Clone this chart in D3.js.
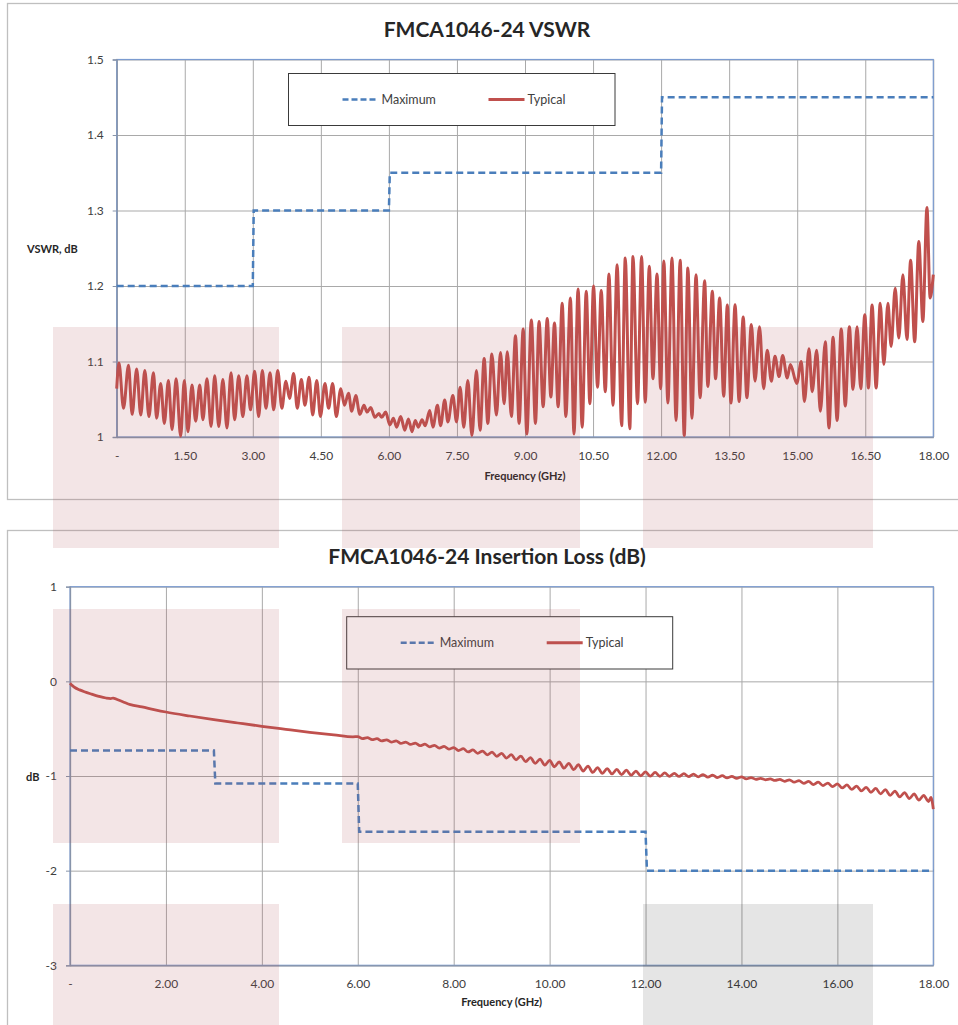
<!DOCTYPE html>
<html>
<head>
<meta charset="utf-8">
<script src="https://cdn.jsdelivr.net/npm/d3@7"></script>
<style>
  body { margin: 0; background: #fff; }
  svg { display: block; }
  text { font-family: Lato, "Open Sans", "DejaVu Sans", sans-serif; }
</style>
</head>
<body>
<svg id="page" width="958" height="1025"></svg>
<script>
// ---- data ----
const vswrFreqTicks = [0, 1.5, 3, 4.5, 6, 7.5, 9, 10.5, 12, 13.5, 15, 16.5, 18];
const vswrTicks = [1, 1.1, 1.2, 1.3, 1.4, 1.5];
const ilFreqTicks = [0, 2, 4, 6, 8, 10, 12, 14, 16, 18];
const ilTicks = [-3, -2, -1, 0, 1];

// VSWR limit (step line)
const vswrMaximum = [[0, 1.2], [3.0, 1.2], [3.02, 1.3], [6.0, 1.3], [6.02, 1.35],
  [12.0, 1.35], [12.02, 1.45], [18.0, 1.45]];

// VSWR measured, peaks and troughs of the ripple [GHz, VSWR]
const vswrTypical = [
  [0, 1.064], [0.05, 1.098], [0.15, 1.038], [0.26, 1.095], [0.34, 1.030], [0.44, 1.090],
  [0.53, 1.029], [0.62, 1.088], [0.71, 1.027], [0.81, 1.085], [0.88, 1.025], [0.97, 1.071],
  [1.05, 1.018], [1.14, 1.075], [1.22, 1.010], [1.31, 1.077], [1.41, 1.001], [1.49, 1.075],
  [1.57, 1.007], [1.66, 1.069], [1.74, 1.021], [1.83, 1.069], [1.90, 1.023], [1.99, 1.077],
  [2.08, 1.014], [2.16, 1.081], [2.25, 1.014], [2.34, 1.076], [2.43, 1.012], [2.52, 1.085],
  [2.60, 1.023], [2.69, 1.081], [2.78, 1.027], [2.87, 1.081], [2.95, 1.036], [3.04, 1.087],
  [3.13, 1.027], [3.21, 1.088], [3.29, 1.038], [3.38, 1.085], [3.46, 1.036], [3.55, 1.088],
  [3.64, 1.038], [3.73, 1.074], [3.81, 1.051], [3.90, 1.084], [3.98, 1.038], [4.07, 1.076],
  [4.15, 1.042], [4.24, 1.079], [4.32, 1.029], [4.41, 1.075], [4.49, 1.027], [4.59, 1.071],
  [4.67, 1.038], [4.76, 1.071], [4.84, 1.027], [4.94, 1.064], [5.02, 1.042], [5.11, 1.058],
  [5.18, 1.034], [5.27, 1.055], [5.36, 1.030], [5.45, 1.042], [5.52, 1.033], [5.60, 1.039],
  [5.69, 1.026], [5.78, 1.031], [5.84, 1.026], [5.93, 1.033], [6.02, 1.016], [6.10, 1.025],
  [6.17, 1.013], [6.26, 1.027], [6.35, 1.009], [6.43, 1.024], [6.51, 1.007], [6.58, 1.022],
  [6.65, 1.013], [6.73, 1.023], [6.80, 1.015], [6.90, 1.035], [6.97, 1.013], [7.07, 1.042],
  [7.14, 1.015], [7.23, 1.049], [7.30, 1.020], [7.41, 1.055], [7.49, 1.020], [7.57, 1.066],
  [7.65, 1.013], [7.74, 1.075], [7.83, 1.002], [7.93, 1.088], [8.01, 1.009], [8.10, 1.104],
  [8.18, 1.018], [8.27, 1.110], [8.37, 1.029], [8.46, 1.112], [8.54, 1.044], [8.61, 1.113],
  [8.70, 1.027], [8.79, 1.134], [8.87, 1.018], [8.96, 1.143], [9.04, 1.004], [9.14, 1.155],
  [9.23, 1.018], [9.31, 1.153], [9.40, 1.040], [9.49, 1.157], [9.57, 1.053], [9.65, 1.151],
  [9.73, 1.040], [9.82, 1.177], [9.90, 1.027], [10.00, 1.184], [10.08, 1.004], [10.17, 1.196],
  [10.26, 1.013], [10.35, 1.193], [10.43, 1.044], [10.51, 1.200], [10.60, 1.066], [10.68, 1.194],
  [10.77, 1.060], [10.85, 1.216], [10.94, 1.042], [11.03, 1.228], [11.13, 1.015], [11.21, 1.237],
  [11.31, 1.011], [11.38, 1.239], [11.48, 1.044], [11.57, 1.239], [11.65, 1.046], [11.74, 1.226],
  [11.82, 1.077], [11.91, 1.216], [11.99, 1.064], [12.06, 1.233], [12.15, 1.045], [12.24, 1.237],
  [12.33, 1.022], [12.42, 1.234], [12.51, 1.002], [12.59, 1.224], [12.68, 1.025], [12.77, 1.215],
  [12.86, 1.052], [12.96, 1.207], [13.03, 1.067], [13.13, 1.193], [13.20, 1.077], [13.29, 1.184],
  [13.38, 1.054], [13.46, 1.175], [13.54, 1.045], [13.63, 1.175], [13.72, 1.047], [13.81, 1.159],
  [13.89, 1.052], [13.99, 1.149], [14.07, 1.074], [14.17, 1.146], [14.26, 1.064], [14.34, 1.115],
  [14.43, 1.074], [14.51, 1.107], [14.60, 1.080], [14.68, 1.108], [14.78, 1.078], [14.85, 1.096],
  [14.99, 1.071], [15.09, 1.100], [15.16, 1.047], [15.26, 1.117], [15.33, 1.060], [15.43, 1.115],
  [15.51, 1.034], [15.62, 1.126], [15.70, 1.012], [15.79, 1.132], [15.88, 1.022], [15.97, 1.143],
  [16.06, 1.041], [16.15, 1.146], [16.23, 1.063], [16.32, 1.146], [16.40, 1.064], [16.49, 1.162],
  [16.57, 1.065], [16.65, 1.175], [16.74, 1.065], [16.83, 1.177], [16.91, 1.096], [17.00, 1.177],
  [17.07, 1.120], [17.16, 1.197], [17.24, 1.131], [17.33, 1.215], [17.42, 1.129], [17.50, 1.234],
  [17.59, 1.126], [17.68, 1.259], [17.77, 1.153], [17.86, 1.304], [17.93, 1.184], [18.00, 1.215]
];

// insertion loss limit (step line)
const ilMaximum = [[0, -0.73], [3.0, -0.73], [3.03, -1.08], [6.0, -1.08], [6.03, -1.59],
  [12.0, -1.59], [12.03, -2.0], [18.0, -2.0]];

// insertion loss measured [GHz, dB]
const ilTypical = [
  [0, -0.02], [0.05, -0.045], [0.1, -0.065], [0.2, -0.09], [0.3, -0.11], [0.45, -0.135],
  [0.6, -0.158], [0.75, -0.176], [0.85, -0.182], [0.9, -0.176], [0.97, -0.19], [1.1, -0.215],
  [1.26, -0.246], [1.5, -0.27], [1.75, -0.298], [2.0, -0.324], [2.5, -0.366], [3.0, -0.404],
  [3.5, -0.44], [4.0, -0.475], [4.5, -0.507], [5.0, -0.538], [5.5, -0.565], [5.9, -0.586],
  [6.0, -0.583], [6.1, -0.605], [6.2, -0.595], [6.3, -0.617], [6.4, -0.606], [6.5, -0.630],
  [6.6, -0.618], [6.7, -0.642], [6.8, -0.629], [6.9, -0.655], [7.0, -0.641], [7.1, -0.667],
  [7.2, -0.653], [7.3, -0.680], [7.4, -0.664], [7.5, -0.692], [7.6, -0.676], [7.7, -0.705],
  [7.8, -0.687], [7.9, -0.717], [8.0, -0.699], [8.1, -0.731], [8.2, -0.712], [8.3, -0.746],
  [8.4, -0.725], [8.5, -0.761], [8.6, -0.736], [8.7, -0.776], [8.8, -0.748], [8.9, -0.792],
  [9.0, -0.760], [9.1, -0.810], [9.2, -0.775], [9.3, -0.829], [9.4, -0.790], [9.5, -0.848],
  [9.6, -0.806], [9.7, -0.867], [9.8, -0.821], [9.9, -0.886], [10.0, -0.836], [10.1, -0.903],
  [10.2, -0.851], [10.3, -0.918], [10.4, -0.866], [10.5, -0.933], [10.6, -0.880], [10.7, -0.948],
  [10.8, -0.895], [10.9, -0.963], [11.0, -0.911], [11.1, -0.972], [11.2, -0.921], [11.3, -0.978],
  [11.4, -0.931], [11.5, -0.985], [11.6, -0.939], [11.7, -0.991], [11.8, -0.948], [11.9, -0.998],
  [12.0, -0.957], [12.1, -1.002], [12.2, -0.962], [12.3, -1.003], [12.4, -0.967], [12.5, -1.004],
  [12.6, -0.972], [12.7, -1.005], [12.8, -0.976], [12.9, -1.007], [13.0, -0.980], [13.1, -1.009],
  [13.2, -0.985], [13.3, -1.013], [13.4, -0.991], [13.5, -1.017], [13.6, -0.997], [13.7, -1.021],
  [13.8, -1.003], [13.9, -1.026], [14.0, -1.008], [14.1, -1.030], [14.2, -1.016], [14.3, -1.035],
  [14.4, -1.025], [14.5, -1.040], [14.6, -1.031], [14.7, -1.047], [14.8, -1.036], [14.9, -1.056],
  [15.0, -1.040], [15.1, -1.066], [15.2, -1.048], [15.3, -1.078], [15.4, -1.056], [15.5, -1.090],
  [15.6, -1.065], [15.7, -1.101], [15.8, -1.074], [15.9, -1.112], [16.0, -1.082], [16.1, -1.126],
  [16.2, -1.094], [16.3, -1.142], [16.4, -1.106], [16.5, -1.157], [16.6, -1.119], [16.7, -1.173],
  [16.8, -1.132], [16.9, -1.188], [17.0, -1.145], [17.1, -1.204], [17.2, -1.160], [17.3, -1.221],
  [17.4, -1.175], [17.5, -1.238], [17.6, -1.190], [17.7, -1.255], [17.8, -1.205], [17.9, -1.270],
  [17.95, -1.225], [18.0, -1.35]
];

// ---- drawing ----
const svg = d3.select("#page");
const blue = "#4a7ebb", red = "#c0504d", grid = "#a9a9a9", ink = "#404040";

function drawChart(c) {
  const g = svg.append("g");

  g.append("rect")
    .attr("x", c.frame[0]).attr("y", c.frame[1])
    .attr("width", c.frame[2]).attr("height", c.frame[3])
    .attr("fill", "#fff").attr("stroke", "#bfbfbf").attr("stroke-width", 1.3);

  g.append("text")
    .attr("x", 487).attr("y", c.titleY)
    .attr("text-anchor", "middle")
    .style("font-size", "21px").style("font-weight", "bold").style("fill", "#262626")
    .text(c.title);

  let x = d3.scaleLinear().domain([0, 18]).range([c.left, c.right]);
  let y = d3.scaleLinear().domain(c.yDomain).range([c.bottom, c.top]);
  let w = c.right - c.left, h = c.bottom - c.top;

  // grid
  g.append("g")
    .attr("transform", "translate(0," + c.bottom + ")")
    .call(d3.axisBottom(x).tickValues(c.xTicks).tickSize(-h).tickFormat(""))
    .call(s => s.select(".domain").remove())
    .selectAll("line").attr("stroke", grid);
  g.append("g")
    .attr("transform", "translate(" + c.left + ",0)")
    .call(d3.axisLeft(y).tickValues(c.yTicks).tickSize(-w).tickFormat(""))
    .call(s => s.select(".domain").remove())
    .selectAll("line").attr("stroke", grid);

  // plot area border
  g.append("rect")
    .attr("x", c.left).attr("y", c.top).attr("width", w).attr("height", h)
    .attr("fill", "none").attr("stroke", "#7b9bd0").attr("stroke-width", 1.2);

  // axes
  let yAx = g.append("g")
    .attr("transform", "translate(" + c.left + ",0)")
    .call(d3.axisLeft(y).tickValues(c.yTicks).tickSize(4).tickPadding(9).tickFormat(c.yFormat));
  let xAx = g.append("g")
    .attr("transform", "translate(0," + c.bottom + ")")
    .call(d3.axisBottom(x).tickValues(c.xTicks).tickSize(0).tickPadding(14)
      .tickFormat(d => d === 0 ? "-" : d.toFixed(2)));
  [yAx, xAx].forEach(a => {
    a.select(".domain").attr("stroke", "#8794aa").attr("stroke-width", 1.3);
    a.selectAll("line").attr("stroke", "#8794aa");
    a.selectAll("text").style("font-size", "12px").style("fill", ink)
      .style("font-family", "Lato, 'Open Sans', sans-serif");
  });

  // series
  let line = d3.line().x(d => x(d[0])).y(d => y(d[1]));
  g.append("path").datum(c.maximum)
    .attr("d", line)
    .attr("fill", "none").attr("stroke", blue).attr("stroke-width", 2.5)
    .attr("stroke-dasharray", "7,4");
  g.append("path").datum(c.typical)
    .attr("d", line.curve(d3.curveMonotoneX))
    .attr("fill", "none").attr("stroke", red).attr("stroke-width", c.redWidth)
    .attr("stroke-linejoin", "round");

  // legend
  let L = c.legend;
  g.append("rect")
    .attr("x", L[0]).attr("y", L[1]).attr("width", L[2]).attr("height", L[3])
    .attr("fill", "#fff").attr("stroke", "#3a3a3a").attr("stroke-width", 1);
  let ly = L[1] + L[3] / 2;
  g.append("line")
    .attr("x1", L[0] + 54).attr("x2", L[0] + 90).attr("y1", ly).attr("y2", ly)
    .attr("stroke", blue).attr("stroke-width", 2.5).attr("stroke-dasharray", "6,3");
  g.append("text").attr("x", L[0] + 93).attr("y", ly + 4)
    .style("font-size", "12.5px").style("fill", ink).text("Maximum");
  g.append("line")
    .attr("x1", L[0] + 200).attr("x2", L[0] + 236).attr("y1", ly).attr("y2", ly)
    .attr("stroke", red).attr("stroke-width", 3);
  g.append("text").attr("x", L[0] + 239).attr("y", ly + 4)
    .style("font-size", "12.5px").style("fill", ink).text("Typical");

  // axis titles
  g.append("text")
    .attr("x", (c.left + c.right) / 2).attr("y", c.xTitleY)
    .attr("text-anchor", "middle")
    .style("font-size", "11px").style("font-weight", "bold").style("fill", "#262626")
    .text("Frequency (GHz)");
  g.append("text")
    .attr("x", c.yTitle[0]).attr("y", c.yTitle[1])
    .style("font-size", "11px").style("font-weight", "bold").style("fill", "#262626")
    .text(c.yTitle[2]);
}

drawChart({
  frame: [7.5, 3.5, 960, 496],
  title: "FMCA1046-24 VSWR", titleY: 37,
  left: 116.7, right: 933.3, top: 59.5, bottom: 437,
  yDomain: [1, 1.5], yTicks: vswrTicks, xTicks: vswrFreqTicks,
  yFormat: d => d === 1 ? "1" : d.toFixed(1),
  maximum: vswrMaximum, typical: vswrTypical, redWidth: 3,
  legend: [288.5, 73.5, 326.5, 52],
  xTitleY: 480, yTitle: [27, 253, "VSWR, dB"]
});

drawChart({
  frame: [7.5, 530.5, 960, 520],
  title: "FMCA1046-24 Insertion Loss (dB)", titleY: 564,
  left: 70, right: 933.3, top: 586.7, bottom: 965.3,
  yDomain: [-3, 1], yTicks: ilTicks, xTicks: ilFreqTicks,
  yFormat: d => String(d),
  maximum: ilMaximum, typical: ilTypical, redWidth: 2.75,
  legend: [346.7, 616.7, 326, 52.3],
  xTitleY: 1006, yTitle: [26, 781, "dB"]
});

// translucent blocks lying over both charts
const overlays = [
  [53, 327, 226, 221, "rgba(175,82,88,0.15)"], [342, 327, 238, 221, "rgba(175,82,88,0.15)"],
  [643, 327, 230, 221, "rgba(175,82,88,0.15)"], [53, 609, 226, 234, "rgba(175,82,88,0.15)"],
  [342, 609, 238, 234, "rgba(175,82,88,0.15)"], [53, 904, 226, 125, "rgba(175,82,88,0.15)"],
  [643, 904, 230, 125, "rgba(0,0,0,0.1)"]
];
svg.append("g").selectAll("rect").data(overlays).join("rect")
  .attr("x", d => d[0]).attr("y", d => d[1])
  .attr("width", d => d[2]).attr("height", d => d[3])
  .attr("fill", d => d[4]);
</script>
</body>
</html>
